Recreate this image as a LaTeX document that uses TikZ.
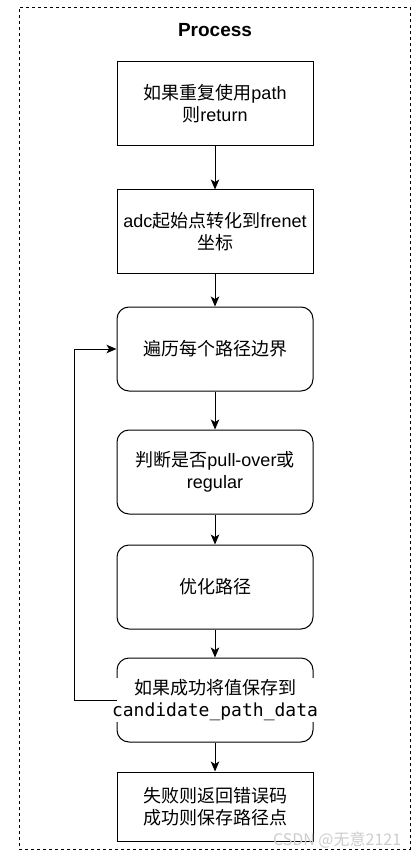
\documentclass[tikz,border=0pt]{standalone}
\usepackage{fontspec}
\setmainfont{Liberation Sans}
\setmonofont{DejaVu Sans Mono}
\newfontfamily\cjk{Noto Sans CJK SC}
\usetikzlibrary{arrows.meta,positioning}

\begin{document}
\begin{tikzpicture}[x=1pt, y=1pt, >={Stealth[length=10pt, width=8.5pt, inset=2.5pt]}, line width=1pt,
    box/.style={draw, minimum width=196pt, minimum height=84pt, inner sep=0pt, align=center, font=\fontsize{18}{22}\selectfont},
    roundbox/.style={box, rounded corners=12pt}]
    \useasboundingbox (0,0) rectangle (419,-858);

    % Frame and title
    \node [draw, dash pattern=on 3pt off 3pt, line width=0.9pt, minimum width=391pt, minimum height=842pt, inner sep=0pt] (frame) at (214.5,-428) {};
    \node [font=\fontsize{19}{22}\selectfont\bfseries] (title) at (215,-30) {Process};

    % Nodes {b1, b2, ..., b7}
    \node [box]                         (b1) at (215,-104) {{\cjk 如果重复使用}path\\{\cjk 则}return};
    \node [box]       [below=43pt of b1] (b2) {adc{\cjk 起始点转化到}frenet\\{\cjk 坐标}};
    \node [roundbox]  [below=32pt of b2] (b3) {\cjk 遍历每个路径边界};
    \node [roundbox]  [below=38pt of b3] (b4) {{\cjk 判断是否}pull-over{\cjk 或}\\regular};
    \node [roundbox]  [below=30pt of b4] (b5) {\cjk 优化路径};
    \node [roundbox]  [below=28pt of b5] (b6) {};
    \node [fill=white, inner sep=1pt, align=center, font=\fontsize{18}{22}\selectfont] (b6text) at (b6) {{\cjk 如果成功将值保存到}\\\texttt{candidate\_path\_data}};
    \node [box, minimum height=69pt] [below=29pt of b6] (b7) {{\cjk 失败则返回错误码}\\{\cjk 成功则保存路径点}};

    % Watermark
    \node [anchor=east, text=gray!40, font=\fontsize{16}{16}\selectfont\cjk] (mark) at (405,-840) {CSDN @无意2121};

    % Paths
    \path [->] (b1) edge (b2);
    \path [->] (b2) edge (b3);
    \path [->] (b3) edge (b4);
    \path [->] (b4) edge (b5);
    \path [->] (b5) edge (b6);
    \path [->] (b6) edge (b7);
    \draw [->] (b6.west) -- ++(-42pt,0) |- (b3.west);
\end{tikzpicture}
\end{document}
